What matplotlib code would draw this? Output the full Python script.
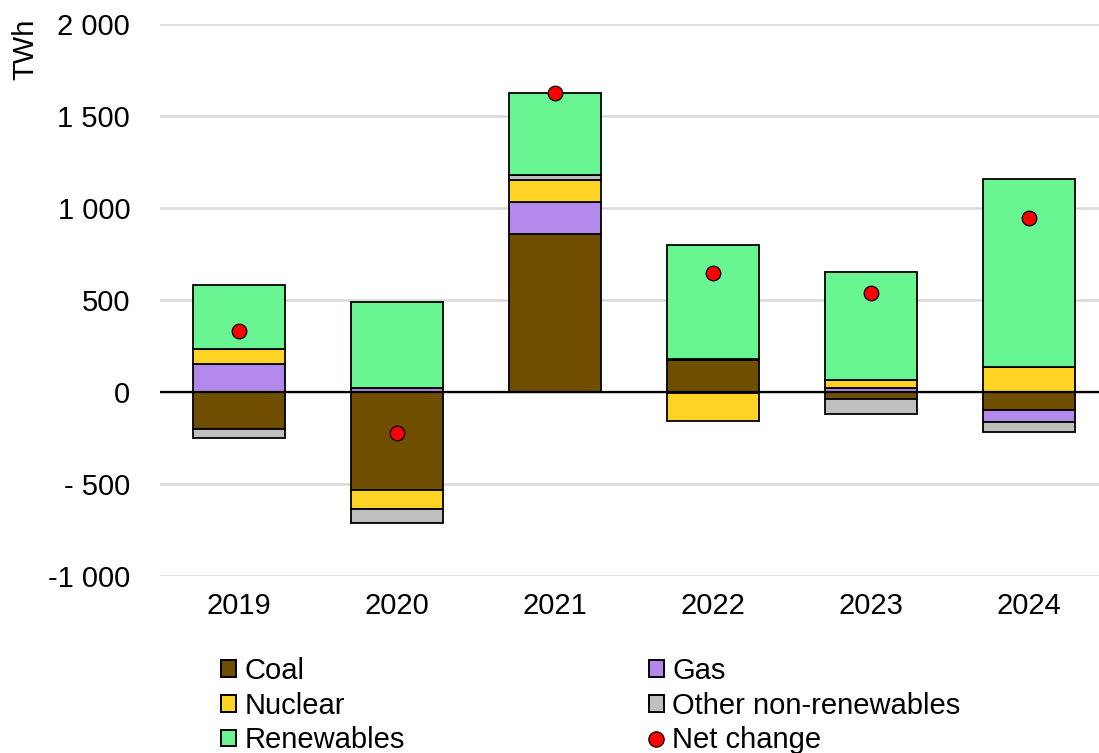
import matplotlib
matplotlib.use("Agg")
import matplotlib.pyplot as plt
import numpy as np
from matplotlib.patches import Patch
from matplotlib.lines import Line2D

plt.rcParams['font.family'] = ['Liberation Sans', 'DejaVu Sans']

years = ["2019", "2020", "2021", "2022", "2023", "2024"]
coal = [-203, -533, 859, 172, -36, -98]
gas = [152, 20, 174, -3, 20, -63]
nuclear = [82, -105, 119, -156, 45, 134]
other = [-45, -76, 27, 10, -82, -55]
renewables = [347, 469, 448, 619, 586, 1024]
net_change = [333, -225, 1627, 648, 538, 944]

yticks = [-1000, -500, 0, 500, 1000, 1500, 2000]
ytick_labels = ["-1 000", "- 500", "0", "500", "1 000", "1 500", "2 000"]

series = [("Coal", coal, "#6F4E00"),
          ("Gas", gas, "#B388EB"),
          ("Nuclear", nuclear, "#FFD324"),
          ("Other non-renewables", other, "#BFBFBF"),
          ("Renewables", renewables, "#69F591")]

FS = 21
W, H = 1099, 753
fig = plt.figure(figsize=(W / 100, H / 100), dpi=100)
ax = fig.add_axes([160 / W, 1 - 576 / H, (W - 160) / W, (576 - 24) / H])

x = np.arange(len(years))
pos_base = np.zeros(len(years))
neg_base = np.zeros(len(years))
width = 0.576
for name, vals, col in series:
    v = np.array(vals, dtype=float)
    bottoms = np.where(v >= 0, pos_base, neg_base)
    ax.bar(x, v, width, bottom=bottoms, color=col, edgecolor="black", linewidth=1.3, zorder=3)
    pos_base = pos_base + np.where(v >= 0, v, 0)
    neg_base = neg_base + np.where(v < 0, v, 0)

ax.scatter(x, net_change, s=110, color="#FF0000", edgecolor="black", linewidth=0.9, zorder=5)

ax.set_xlim(-0.5, (W - 160) / 158 - 0.5)
ax.set_ylim(-1000, 2000)
ax.set_yticks(yticks)
ax.set_yticklabels(ytick_labels)
ax.set_xticks(x)
ax.set_xticklabels(years)
ax.yaxis.grid(True, color="#D9D9D9", linewidth=1.8, zorder=0)
ax.set_axisbelow(True)
ax.axhline(0, color="black", linewidth=1.6, zorder=4)
for s in ax.spines.values():
    s.set_visible(False)
ax.tick_params(axis="both", length=0, labelsize=FS)
ax.tick_params(axis="y", pad=21.5)
ax.tick_params(axis="x", pad=11.5)

fig.text(25 / W, 1 - 49 / H, "TWh", rotation=90, ha="center", va="center", fontsize=FS)

def sq(col):
    return Patch(facecolor=col, edgecolor="black", linewidth=1.4)

h1 = [sq(series[0][2]), sq(series[2][2]), sq(series[4][2])]
l1 = ["Coal", "Nuclear", "Renewables"]
h2 = [sq(series[1][2]), sq(series[3][2]),
      Line2D([], [], marker="o", linestyle="none", markersize=11,
             markerfacecolor="#FF0000", markeredgecolor="black", markeredgewidth=0.9)]
l2 = ["Gas", "Other non-renewables", "Net change"]

common = dict(frameon=False, fontsize=FS, handlelength=0.5, handleheight=0.5,
              handletextpad=0.3, labelspacing=0.23, borderpad=0, borderaxespad=0, loc="upper left")
leg1 = fig.legend(h1, l1, bbox_to_anchor=(221 / W, 1 - 657 / H), **common)
leg2 = fig.legend(h2, l2, bbox_to_anchor=(649 / W, 1 - 657 / H), **common)

fig.savefig("out.png", dpi=100)
